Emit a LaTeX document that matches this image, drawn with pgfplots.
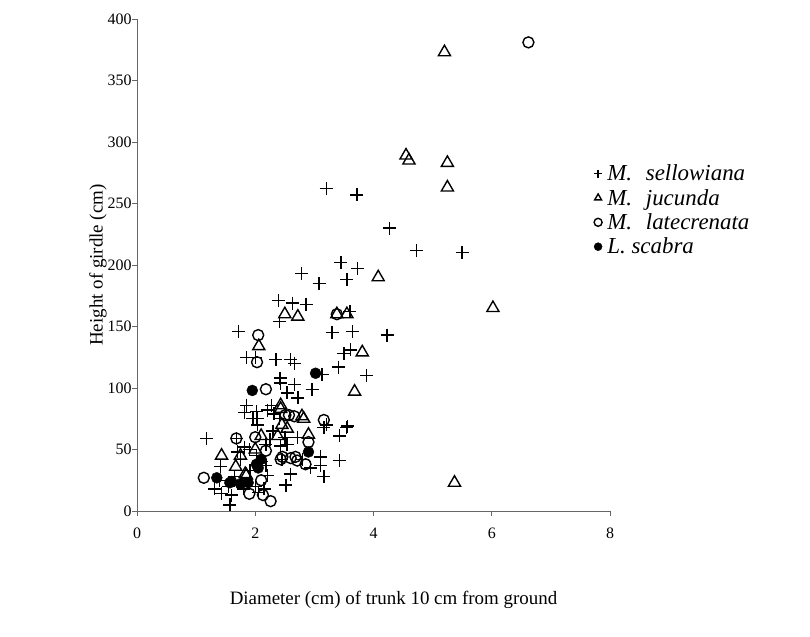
\documentclass[border=0pt]{standalone}
\usepackage{pgfplots}
\pgfplotsset{compat=1.18}
\usepackage{fontspec}
\setmainfont{Liberation Serif}

\begin{document}
\begin{tikzpicture}
\begin{axis}[
    scale only axis,
    width=473bp, height=492bp,
    xmin=0, xmax=8, ymin=0, ymax=400,
    xtick={0,2,...,8}, ytick={0,50,...,400},
    axis x line*=bottom, axis y line*=left,
    axis line style={black!60, line width=0.8pt},
    tick align=outside, tick style={black!60, line width=0.8pt},
    major tick length=5bp,
    /pgf/number format/assume math mode=true,
    ticklabel style={font=\fontsize{16}{18}\selectfont},
    xticklabel style={yshift=-8bp},
    yticklabel style={xshift=3bp},
    xlabel={Diameter (cm) of trunk 10 cm from ground},
    ylabel={Height of girdle (cm)},
    label style={font=\fontsize{19}{22}\selectfont},
    xlabel style={yshift=-46bp, xshift=20bp},
    ylabel style={yshift=-6bp},
    clip=false,
    legend cell align=left,
    legend style={at={(0.966,0.708)}, anchor=north west, draw=none, fill=none,
        font=\fontsize{23}{26}\selectfont\itshape, row sep=3bp,
        inner sep=0pt},
    legend image code/.code={\draw[mark size=4bp] plot coordinates {(0.15cm,0cm)};
        \path (0.38cm,0cm);},
]
% M. sellowiana
\addplot[only marks, mark=+, mark size=6.5bp, line width=1.4pt] coordinates {
(3.2,262) (3.72,257) (4.27,230) (4.73,212) (5.5,210) (3.45,202) (3.73,197)
(2.78,193) (3.08,185) (3.55,188) (2.39,171) (2.63,169) (2.86,168) (2.41,154)
(3.6,162) (1.72,146) (3.3,145) (3.64,146) (4.23,143) (3.5,128) (3.61,131)
(1.85,125) (2.0,125) (2.35,123) (2.6,123) (2.66,120) (3.13,111) (3.41,117)
(3.88,110) (2.42,108) (2.43,104) (2.66,103) (2.96,99) (2.54,96) (2.72,92)
(1.85,86) (2.27,86) (2.02,81) (1.82,80) (2.21,82) (2.03,75) (2.32,79) (2.41,75)
(1.96,75) (2.04,70) (1.18,59) (1.68,59) (2.18,54) (2.43,53) (2.54,54) (1.82,52)
(3.21,70) (3.56,69) (3.16,68) (3.54,68) (3.43,61) (2.71,60) (3.1,44) (3.42,41)
(3.1,37) (2.93,35) (3.16,28) (2.52,21) (1.91,33) (2.18,37) (2.21,29) (1.41,36)
(1.31,18) (1.43,14) (1.6,13) (1.57,5) (2.02,45) (2.1,40) (1.75,42) (2.3,65)
(2.5,60) (1.55,20) (1.65,28) (2.0,20) (2.15,18) (1.7,48) (2.6,30) (2.8,42)
(1.4,25) (1.9,50) (2.45,42) (2.25,58) (2.05,15) (1.8,18)
};
\addlegendentry{M.\hspace{0.6em}sellowiana}
% M. jucunda
\addplot[only marks, mark=triangle, mark size=7bp, line width=1.4pt] coordinates {
(5.2,373) (4.55,289) (4.6,285) (5.25,283) (5.25,263) (4.08,190) (6.02,165)
(2.5,160) (2.72,158) (3.38,160) (3.55,160) (2.06,134) (3.81,129) (3.68,97)
(2.43,86) (2.79,77) (2.9,62) (2.54,67) (2.1,61) (2.38,61) (2.43,83) (1.43,45)
(1.67,36) (1.83,30) (1.85,29) (2.82,75) (5.37,23) (2.0,50) (2.45,70) (1.75,45)
};
\addlegendentry{M.\hspace{0.6em}jucunda}
% M. latecrenata
\addplot[only marks, mark=o, mark size=5.5bp, line width=1.4pt] coordinates {
(6.62,381) (3.38,160) (2.05,143) (2.03,121) (2.18,99) (2.57,78) (3.16,74)
(2.9,56) (2.43,42) (2.71,41) (2.85,38) (2.26,8) (1.13,27) (1.9,14) (2.13,13)
(1.68,59) (2.51,78) (2.18,49) (2.46,44) (2.6,43) (2.66,77) (2.68,44) (2.1,25)
(2.0,60)
};
\addlegendentry{M.\hspace{0.6em}latecrenata}
% L. scabra
\addplot[only marks, mark=*, mark size=5.5bp, fill=black] coordinates {
(3.02,112) (1.95,98) (2.9,48) (1.35,27) (1.57,23) (1.88,23) (2.02,38) (1.6,24)
(2.05,35) (1.75,22) (2.1,42)
};
\addlegendentry{L. scabra}
\end{axis}
\path (-137bp,-126bp) rectangle (673bp,511bp);
\end{tikzpicture}
\end{document}
